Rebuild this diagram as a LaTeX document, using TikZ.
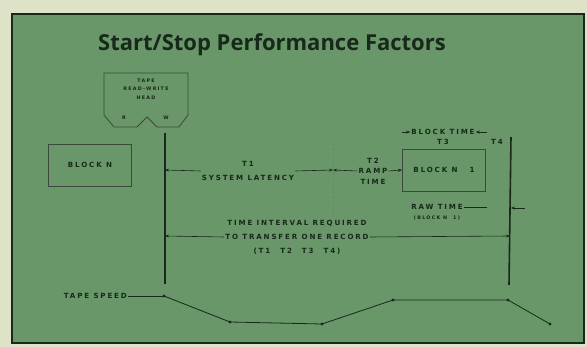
\documentclass[tikz,border=0pt]{standalone}
\usepackage{fontspec}
\newfontfamily\titlefont{Open Sans}
\newfontfamily\labfont{DejaVu Sans}[LetterSpace=26]
\usetikzlibrary{arrows.meta}
\definecolor{panel}{RGB}{105,151,105}
\definecolor{ink}{RGB}{24,40,26}
\definecolor{paper}{RGB}{222,226,198}

\begin{document}
\begin{tikzpicture}[
    x=1pt,y=-1pt,>={Stealth[length=4pt,width=3pt]},
    lab/.style={font=\labfont\bfseries\fontsize{7.1}{10.5}\selectfont,text=ink,inner sep=1pt,align=center},
    tiny/.style={font=\labfont\bfseries\fontsize{4.8}{8.5}\selectfont,text=ink,inner sep=1pt,align=center},
    dim/.style={->,draw=ink,line width=0.6pt},
    rule/.style={draw=ink,line width=1.6pt},
    outline/.style={draw=ink!85,line width=0.8pt}
]
\useasboundingbox (0,0) rectangle (587,347);
% Slide background and panel.
\fill[paper] (0,0) rectangle (587,347);
\filldraw[fill=panel,draw=ink,line width=1.2pt] (12,14) rectangle (584,343);
\node[font=\titlefont\bfseries\fontsize{22}{26}\selectfont,text=ink] (title) at (272,45) {Start/Stop Performance Factors};
% Read/write head.
\draw[outline] (104,73) -- (188,73) -- (188,115) -- (179,127) -- (157,127) -- (147,117)
    -- (137,127) -- (114,127) -- (104,115) -- cycle;
\node[tiny] (headtxt) at (146,89) {TAPE\\READ-WRITE\\HEAD};
\node[tiny] (rd) at (124,118) {R};
\node[tiny] (wr) at (166,118) {W};
% Start and end rules.
\coordinate (lt) at (165,133);
\coordinate (lb) at (165,284);
\coordinate (rt) at (511,137);
\coordinate (rb) at (509,285);
\draw[rule] (lt) -- (lb);
\draw[rule] (rt) -- (rb);
\coordinate (ramptop) at (333,142);
\coordinate (rampbot) at (333,218);
\draw[ink!60,line width=0.4pt,dashed] (ramptop) -- (rampbot);
% Blocks.
\node[lab,draw=ink!85,line width=0.8pt,minimum width=83,minimum height=42] (blockL) at (90,165) {BLOCK N};
\node[lab,draw=ink!85,line width=0.8pt,minimum width=83,minimum height=42] (blockR) at (444,170) {BLOCK N\hspace{12pt}1};
% Latency and ramp.
\node[lab] (lat) at (248,171) {T1\\[3.5pt]SYSTEM LATENCY};
\coordinate (latL) at (165,170);
\coordinate (rampM) at (333,170);
\draw[dim] (lat.west) -- (latL);
\draw[dim] (lat.east) -- (rampM);
\node[lab] (ramp) at (373,171) {T2\\RAMP\\TIME};
\draw[dim] (ramp.west) -- (rampM);
\draw[dim] (ramp.east) -- (blockR.west);
% Block time and T4.
\node[lab] (btime) at (443,132) {BLOCK TIME};
\node[lab] (tthree) at (443,142) {T3};
\node[lab] (tfour) at (497,142) {T4};
\coordinate (btL) at (402,132);
\coordinate (btR) at (487,132);
\draw[dim] (btL) -- (btime.west);
\draw[dim] (btR) -- (btime.east);
% Raw time.
\node[lab] (raw) at (437,207) {RAW TIME};
\node[tiny] (rawsub) at (437,218) {(BLOCK N\hspace{6pt}1)};
\coordinate (rawE) at (487,207);
\coordinate (rawR) at (511,208);
\draw[ink,line width=0.6pt] (raw.east) -- (rawE);
\draw[dim] ([xshift=14pt]rawR) -- (rawR);
% Record transfer interval.
\node[lab] (rec) at (297,237) {TIME INTERVAL REQUIRED\\[3.5pt]TO TRANSFER ONE RECORD\\[3.5pt](T1\hspace{10pt}T2\hspace{10pt}T3\hspace{10pt}T4)};
\coordinate (recL) at (165,236);
\coordinate (recR) at (510,236);
\draw[dim] (rec.west) -- (recL);
\draw[dim] (rec.east) -- (recR);
% Tape speed profile.
\node[lab,anchor=east] (speed) at (128,296) {TAPE SPEED};
\coordinate (s0) at (164,296);
\coordinate (s1) at (230,322);
\coordinate (s2) at (322,324);
\coordinate (s3) at (393,300);
\coordinate (s4) at (508,300);
\coordinate (s5) at (550,324);
\draw[ink,line width=0.6pt] (speed.east) -- (s0);
\draw[ink,line width=0.8pt] (s0) -- (s1) -- (s2) -- (s3) -- (s4) -- (s5);
\foreach \p in {s0,s1,s2,s3,s4,s5}
    \fill[ink] (\p) circle[radius=1.6];
\end{tikzpicture}
\end{document}
